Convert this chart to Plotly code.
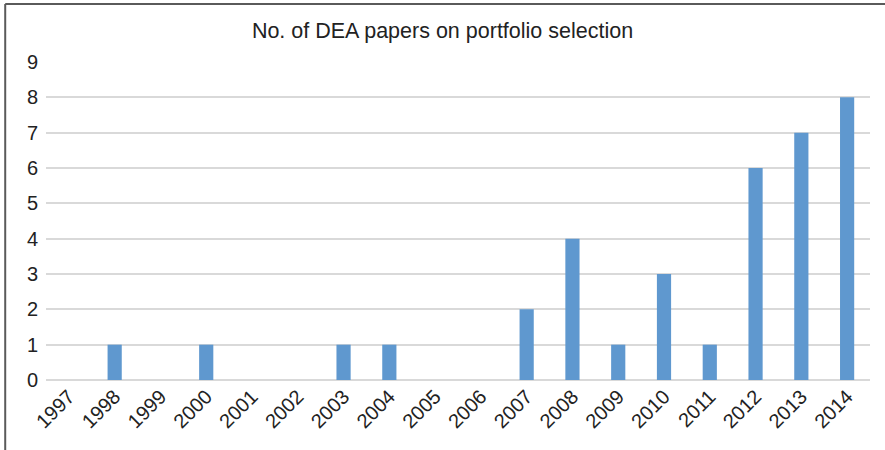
import plotly.graph_objects as go

# Annual count of DEA papers on portfolio selection
years = ["1997", "1998", "1999", "2000", "2001", "2002", "2003", "2004", "2005",
         "2006", "2007", "2008", "2009", "2010", "2011", "2012", "2013", "2014"]
papers = [0, 1, 0, 1, 0, 0, 1, 1, 0, 0, 2, 4, 1, 3, 1, 6, 7, 8]
y_ticks = list(range(0, 10))

fig = go.Figure(
    go.Bar(
        x=years,
        y=papers,
        marker=dict(color="#5f98cf", line=dict(width=0)),
        width=0.31,
    )
)

fig.update_layout(
    width=885,
    height=450,
    margin=dict(l=46, r=15, t=62, b=70),
    paper_bgcolor="white",
    plot_bgcolor="white",
    showlegend=False,
    font=dict(family="Liberation Sans, Arial, sans-serif", size=20, color="#222222"),
    title=dict(
        text="No. of DEA papers on portfolio selection",
        x=0.5,
        xanchor="center",
        y=0.933,
        yanchor="middle",
        font=dict(size=21.5, color="#222222"),
    ),
    xaxis=dict(
        type="category",
        tickangle=-45,
        showgrid=False,
        showline=False,
        ticks="",
        tickfont=dict(size=20),
    ),
    yaxis=dict(
        range=[0, 9],
        tickvals=y_ticks,
        showgrid=True,
        gridcolor="#d9d9d9",
        gridwidth=1.5,
        zeroline=True,
        zerolinecolor="#d9d9d9",
        zerolinewidth=1.5,
        ticks="",
        ticklabelstandoff=7,
        tickfont=dict(size=20),
    ),
    shapes=[
        # frame around the chart (top and left edges)
        dict(type="line", xref="paper", yref="paper",
             x0=-0.0495, x1=1.05, y0=1.1825, y1=1.1825,
             line=dict(color="#5a5a5a", width=2)),
        dict(type="line", xref="paper", yref="paper",
             x0=-0.0495, x1=-0.0495, y0=1.1825, y1=-0.25,
             line=dict(color="#5a5a5a", width=2)),
    ],
)

fig.write_html("out.html")
